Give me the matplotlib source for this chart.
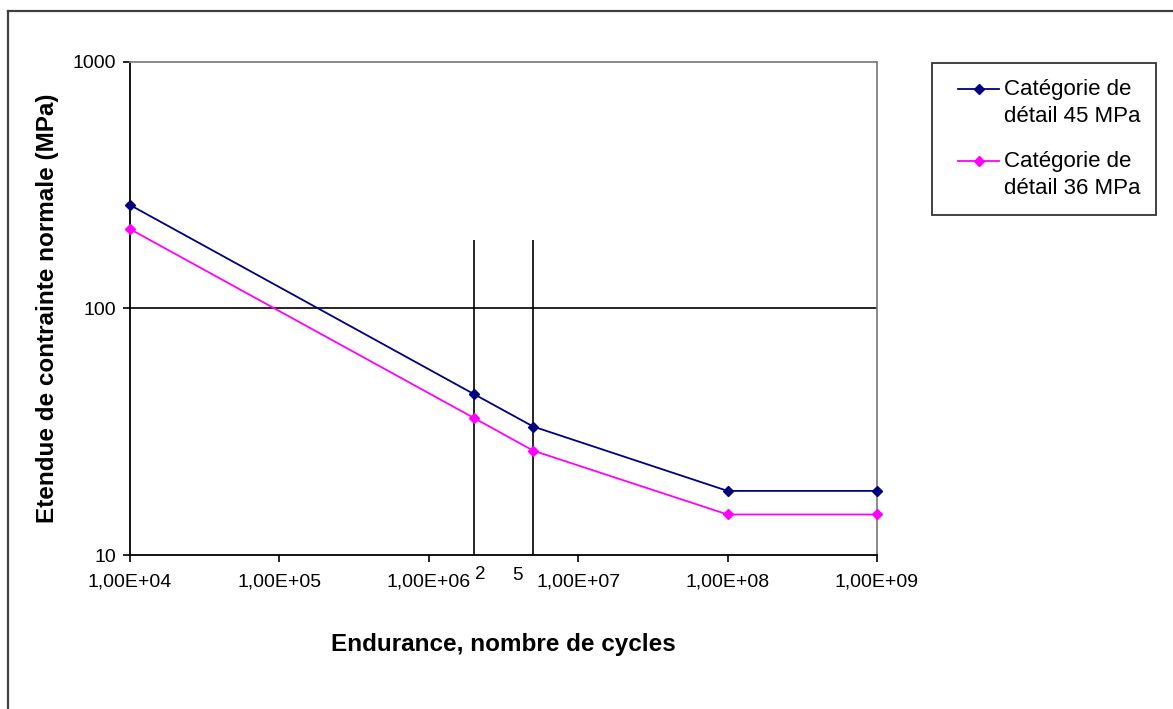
import numpy as np
import matplotlib.pyplot as plt
from matplotlib.lines import Line2D
from matplotlib.legend_handler import HandlerBase
from matplotlib.transforms import blended_transform_factory, offset_copy

plt.rcParams['font.family'] = ['Liberation Sans', 'DejaVu Sans']

# S-N curves (number of cycles, stress range in MPa)
cycles = [1e4, 2e6, 5e6, 1e8, 1e9]
cat45 = [263, 45, 33.2, 18.2, 18.2]
cat36 = [210, 36, 26.5, 14.6, 14.6]
labels = ['Catégorie de\ndétail 45 MPa', 'Catégorie de\ndétail 36 MPa']

# reference verticals at 2e6 and 5e6 cycles
ref_cycles = [2e6, 5e6]
ref_text = ['2', '5']
ref_top = 190

xticks = [1e4, 1e5, 1e6, 1e7, 1e8, 1e9]
xticklabels = ['1,00E+04', '1,00E+05', '1,00E+06', '1,00E+07', '1,00E+08', '1,00E+09']
yticks = [10, 100, 1000]


class FirstLineHandler(HandlerBase):
    """legend key drawn level with the first line of a two-line label"""

    def create_artists(self, legend, orig_handle, xdescent, ydescent, width, height, fontsize, trans):
        x0 = -xdescent + 0.45 * fontsize
        x1 = -xdescent + width
        y = -ydescent + height / 2 + 0.62 * fontsize
        line = Line2D([x0, x1], [y, y], color=orig_handle.get_color(), lw=orig_handle.get_linewidth())
        mark = Line2D([(x0 + x1) / 2], [y], color=orig_handle.get_color(), marker=orig_handle.get_marker(),
                      ms=orig_handle.get_markersize(), ls='none')
        line.set_transform(trans)
        mark.set_transform(trans)
        return [line, mark]


fig = plt.figure(figsize=(11.73, 7.09), dpi=100)
ax = fig.add_axes([0.1108, 0.2172, 0.6368, 0.6954])

l45, = ax.plot(cycles, cat45, color='#000080', marker='D', ms=5.5, lw=1.3, label=labels[0], clip_on=False, zorder=4)
l36, = ax.plot(cycles, cat36, color='#FF00FF', marker='D', ms=5.5, lw=1.3, label=labels[1], clip_on=False, zorder=4)

ax.set_xscale('log')
ax.set_yscale('log')
ax.set_xlim(1e4, 1e9)
ax.set_ylim(10, 1000)

ax.axhline(100, color='black', lw=1.2, zorder=2)
ax.vlines(ref_cycles, 10, ref_top, color='black', lw=1.2, zorder=2)

trans = blended_transform_factory(ax.transData, ax.transAxes)
ax.text(ref_cycles[0], 0, ref_text[0], fontsize=13.5, ha='left', va='top',
        transform=offset_copy(trans, fig=fig, x=1, y=-11, units='dots'))
ax.text(ref_cycles[1], 0, ref_text[1], fontsize=13.5, ha='right', va='top',
        transform=offset_copy(trans, fig=fig, x=-10, y=-12, units='dots'))

ax.set_xticks(xticks)
ax.set_xticklabels(xticklabels)
ax.set_yticks(yticks)
ax.set_yticklabels([str(t) for t in yticks])
ax.minorticks_off()
ax.tick_params(axis='both', direction='out', length=5, width=1.2, labelsize=14, color='black')
ax.tick_params(axis='x', pad=8)
ax.tick_params(axis='y', pad=5)

for side in ['left', 'bottom']:
    ax.spines[side].set_color('black')
    ax.spines[side].set_linewidth(1.3)
for side in ['top', 'right']:
    ax.spines[side].set_color('#808080')
    ax.spines[side].set_linewidth(1.3)

ax.set_xlabel('Endurance, nombre de cycles', fontsize=17.5, fontweight='bold', labelpad=31)
ax.set_ylabel('Etendue de contrainte normale (MPa)', fontsize=17.5, fontweight='bold', labelpad=10)

leg = fig.legend(handles=[l45, l36], loc='upper left', bbox_to_anchor=(0.7945, 0.911), fontsize=16,
                 frameon=True, fancybox=False, edgecolor='black', handlelength=2.3,
                 borderpad=0.72, labelspacing=1.1, handletextpad=0.2, borderaxespad=0,
                 handler_map={Line2D: FirstLineHandler()})
leg.get_frame().set_linewidth(1.3)
for t in leg.get_texts():
    t.set_linespacing(1.35)

# outer chart frame
fig.add_artist(Line2D([8 / 1173, 8 / 1173], [0, 1 - 11 / 709], transform=fig.transFigure, color='#404040', lw=1.6))
fig.add_artist(Line2D([8 / 1173, 1], [1 - 11 / 709, 1 - 11 / 709], transform=fig.transFigure, color='#404040', lw=1.6))

fig.savefig('out.png', dpi=100)
